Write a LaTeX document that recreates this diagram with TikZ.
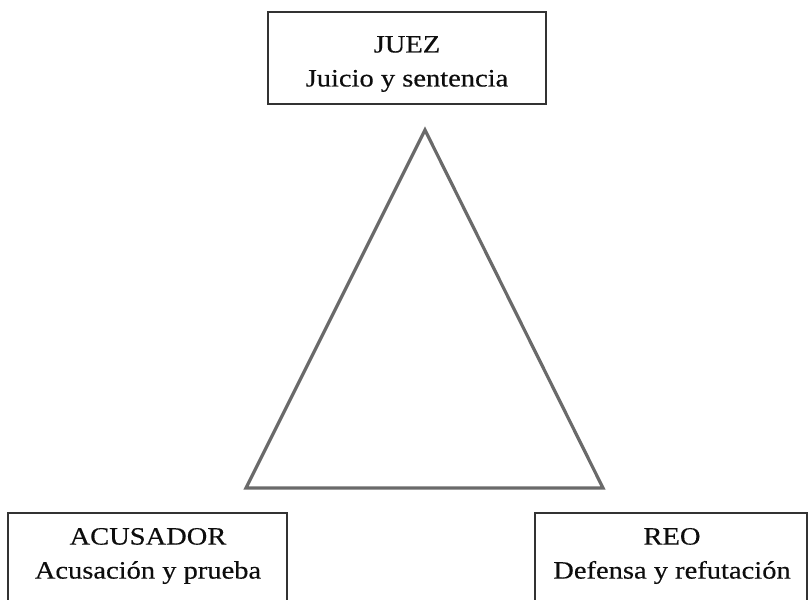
\documentclass[tikz,border=0pt]{standalone}
\usepackage{fontspec}
\setmainfont[FakeStretch=1.14,FakeBold=0.4]{Liberation Serif}
\definecolor{trigray}{HTML}{6A6A6A}
\definecolor{boxline}{HTML}{333333}
\begin{document}
\begin{tikzpicture}[x=1pt,y=-1pt,
  lbl/.style={align=center,font=\fontsize{25}{34}\selectfont,inner sep=0pt,text=black!95},
  boxl/.style={draw=boxline,line width=1.1pt}]
\useasboundingbox (0,0) rectangle (809,600);
% top box
\draw[boxl] (268,12) rectangle (546,104);
\node[lbl] (juez) at (407,64) {JUEZ\\Juicio y sentencia};
% bottom-left box
\draw[boxl] (8,640) -- (8,513) -- (287,513) -- (287,640);
\node[lbl] (acus) at (148,556) {ACUSADOR\\Acusación y prueba};
% bottom-right box
\draw[boxl] (535,640) -- (535,513) -- (807,513) -- (807,640);
\node[lbl] (reo) at (672,556) {REO\\Defensa y refutación};
% triangle
\coordinate (A) at (425,130);
\coordinate (B) at (246,488);
\coordinate (C) at (603,488);
\draw[trigray,line width=3.2pt,line join=miter] (A) -- (B) -- (C) -- cycle;
\end{tikzpicture}
\end{document}
